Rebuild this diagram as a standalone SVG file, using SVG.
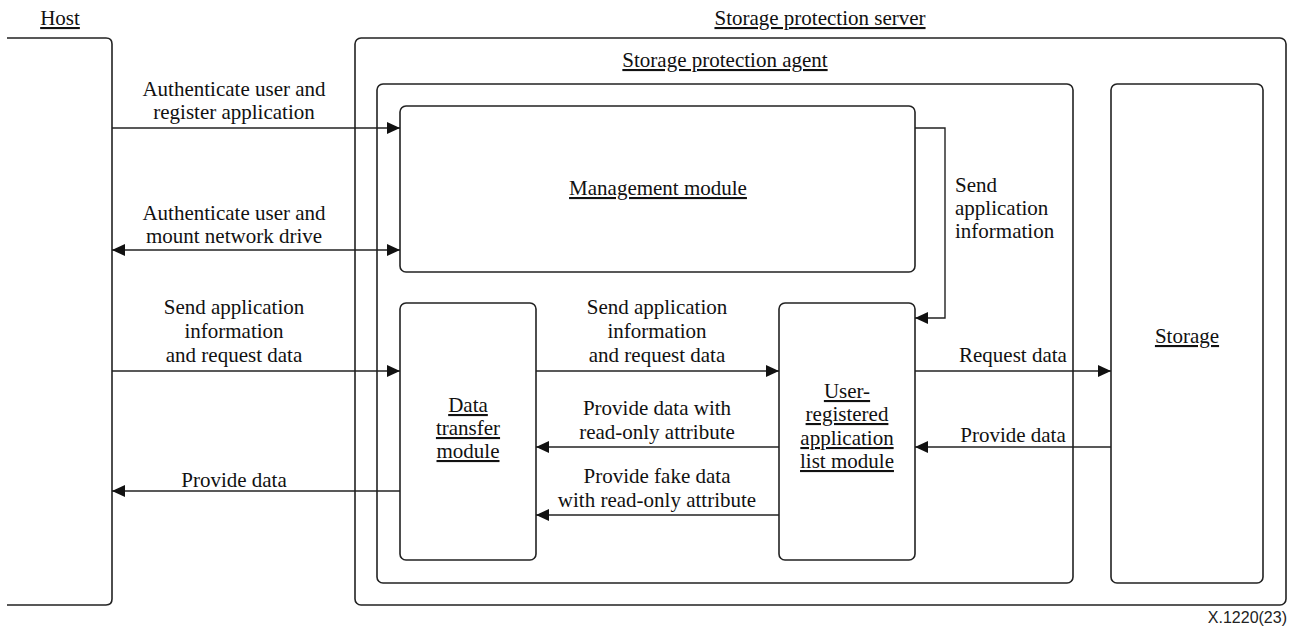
<svg xmlns="http://www.w3.org/2000/svg" width="1293" height="629" viewBox="0 0 1293 629">
  <style>
    .box { fill: none; stroke: #222; stroke-width: 1.6; }
    .conn { fill: none; stroke: #222; stroke-width: 1.4; }
    text { font-family: "Liberation Serif", "Times New Roman", serif; font-size: 21px; fill: #111; }
    .c { text-anchor: middle; }
    .u { text-decoration: underline; }
    .tag { font-family: "Liberation Sans", Arial, sans-serif; font-size: 16px; text-anchor: end; fill: #222; }
  </style>
  <defs>
    <marker id="arrow" markerUnits="userSpaceOnUse" markerWidth="14" markerHeight="14" refX="13" refY="7" orient="auto-start-reverse">
      <path d="M0,1 L13,7 L0,13 Z" fill="#111"/>
    </marker>
  </defs>

  <rect width="1293" height="629" fill="#fff"/>

  <!-- Host (left edge open) -->
  <g id="host">
    <path class="box" d="M7,38 H106 Q112,38 112,44 V599 Q112,605 106,605 H7"/>
    <text class="c u" x="60" y="25">Host</text>
  </g>

  <!-- Storage protection server -->
  <g id="server">
    <rect class="box" x="355" y="38" width="931" height="567" rx="6"/>
    <text class="c u" x="820" y="25">Storage protection server</text>
  </g>

  <!-- Storage protection agent -->
  <g id="agent">
    <rect class="box" x="377" y="84" width="696" height="499" rx="6"/>
    <text class="c u" x="725" y="67">Storage protection agent</text>
  </g>

  <g id="management">
    <rect class="box" x="400" y="106" width="515" height="166" rx="6"/>
    <text class="c u" x="658" y="195">Management module</text>
  </g>

  <g id="data-transfer">
    <rect class="box" x="400" y="303" width="136" height="257" rx="6"/>
    <text class="c u" x="468" y="412">Data</text>
    <text class="c u" x="468" y="435">transfer</text>
    <text class="c u" x="468" y="458">module</text>
  </g>

  <g id="app-list">
    <rect class="box" x="779" y="303" width="136" height="257" rx="6"/>
    <text class="c u" x="847" y="398">User-</text>
    <text class="c u" x="847" y="421">registered</text>
    <text class="c u" x="847" y="445">application</text>
    <text class="c u" x="847" y="468">list module</text>
  </g>

  <g id="storage">
    <rect class="box" x="1111" y="84" width="152" height="499" rx="6"/>
    <text class="c u" x="1187" y="343">Storage</text>
  </g>

  <!-- Connectors -->
  <g id="connectors">
    <line class="conn" x1="112" y1="128" x2="400" y2="128" marker-end="url(#arrow)"/>
    <line class="conn" x1="112" y1="250" x2="400" y2="250" marker-start="url(#arrow)" marker-end="url(#arrow)"/>
    <line class="conn" x1="112" y1="371" x2="400" y2="371" marker-end="url(#arrow)"/>
    <line class="conn" x1="400" y1="491" x2="112" y2="491" marker-end="url(#arrow)"/>
    <line class="conn" x1="536" y1="371" x2="779" y2="371" marker-end="url(#arrow)"/>
    <line class="conn" x1="779" y1="447" x2="536" y2="447" marker-end="url(#arrow)"/>
    <line class="conn" x1="779" y1="515" x2="536" y2="515" marker-end="url(#arrow)"/>
    <polyline class="conn" points="915,128 945,128 945,318 915,318" marker-end="url(#arrow)"/>
    <line class="conn" x1="915" y1="371" x2="1111" y2="371" marker-end="url(#arrow)"/>
    <line class="conn" x1="1111" y1="447" x2="915" y2="447" marker-end="url(#arrow)"/>
  </g>

  <!-- Connector labels -->
  <g id="labels">
    <text class="c" x="234" y="96">Authenticate user and</text>
    <text class="c" x="234" y="119">register application</text>
    <text class="c" x="234" y="220">Authenticate user and</text>
    <text class="c" x="234" y="243">mount network drive</text>
    <text class="c" x="234" y="314">Send application</text>
    <text class="c" x="234" y="338">information</text>
    <text class="c" x="234" y="362">and request data</text>
    <text class="c" x="234" y="487">Provide data</text>

    <text class="c" x="657" y="314">Send application</text>
    <text class="c" x="657" y="338">information</text>
    <text class="c" x="657" y="362">and request data</text>
    <text class="c" x="657" y="415">Provide data with</text>
    <text class="c" x="657" y="439">read-only attribute</text>
    <text class="c" x="657" y="483">Provide fake data</text>
    <text class="c" x="657" y="507">with read-only attribute</text>

    <text x="955" y="192">Send</text>
    <text x="955" y="215">application</text>
    <text x="955" y="238">information</text>

    <text class="c" x="1013" y="362">Request data</text>
    <text class="c" x="1013" y="442">Provide data</text>
  </g>

  <text class="tag" x="1287" y="623">X.1220(23)</text>
</svg>
